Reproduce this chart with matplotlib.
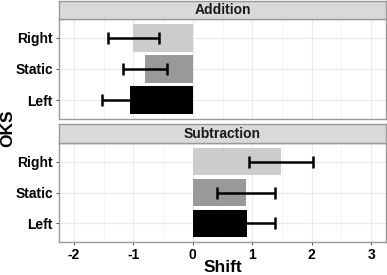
import matplotlib
matplotlib.use("Agg")
import matplotlib.pyplot as plt
import numpy as np

categories = ["Left", "Static", "Right"]
panels = ["Addition", "Subtraction"]
addition_mean = [-1.05, -0.80, -1.00]
addition_err = [0.47, 0.37, 0.43]
subtraction_mean = [0.92, 0.90, 1.48]
subtraction_err = [0.47, 0.49, 0.54]
bar_colors = ["#000000", "#999999", "#cccccc"]
x_ticks = [-2, -1, 0, 1, 2, 3]

plt.rcParams['font.family'] = ['Liberation Sans', 'DejaVu Sans']

fig = plt.figure(figsize=(3.87, 2.75), dpi=100)
H = 275.0
W = 387.0
left = 59 / W
right = 386 / W

def fy(y):
    return 1 - y / H

layout = [
    (1, 19, 119),
    (124, 143, 242),
]
data = [(addition_mean, addition_err), (subtraction_mean, subtraction_err)]

for i, (name, (st, pt, pb)) in enumerate(zip(panels, layout)):
    ax = fig.add_axes([left, fy(pb), right - left, fy(pt) - fy(pb)])
    sax = fig.add_axes([left, fy(pt), right - left, fy(st) - fy(pt)])
    means, errs = data[i]
    y = np.arange(1, len(categories) + 1)
    ax.barh(y, means, height=0.9, color=bar_colors, zorder=2)
    ax.errorbar(means, y, xerr=errs, fmt='none', ecolor='black',
                elinewidth=1.8, capsize=4.6, capthick=1.8, zorder=3)
    ax.set_xticks(x_ticks)
    ax.set_xticks([-1.5, -0.5, 0.5, 1.5, 2.5], minor=True)
    ax.set_yticks(y)
    ax.set_yticklabels(categories, fontsize=10, fontweight='bold')
    ax.set_xlim(-2.25, 3.25)
    ax.set_ylim(0.4, 3.6)
    ax.tick_params(axis='both', which='major', length=2.5, color='#333333', width=0.6, pad=2)
    ax.tick_params(axis='both', which='minor', length=0)
    ax.grid(True, which='major', color='#ebebeb', linewidth=0.8, zorder=0)
    ax.grid(True, which='minor', axis='x', color='#f2f2f2', linewidth=0.5, zorder=0)
    ax.set_axisbelow(True)
    for s in ax.spines.values():
        s.set_color('#999999')
        s.set_linewidth(1.0)
    if i == 0:
        ax.set_xticklabels([])
        ax.tick_params(axis='x', length=0)
    else:
        ax.set_xticklabels([str(t) for t in x_ticks], fontsize=10, fontweight='bold')

    sax.set_facecolor('#d9d9d9')
    sax.set_xticks([])
    sax.set_yticks([])
    for s in sax.spines.values():
        s.set_color('#999999')
        s.set_linewidth(1.0)
    sax.text(0.5, 0.5, name, ha='center', va='center', fontsize=10,
             fontweight='bold', color='#1a1a1a', transform=sax.transAxes)

fig.text((left + right) / 2, fy(267), "Shift", ha='center', va='center',
         fontsize=12.5, fontweight='bold')
fig.text(8 / W, fy(128), "OKS", rotation=90, ha='center', va='center',
         fontsize=12.5, fontweight='bold')

fig.savefig("out.png", dpi=100)
